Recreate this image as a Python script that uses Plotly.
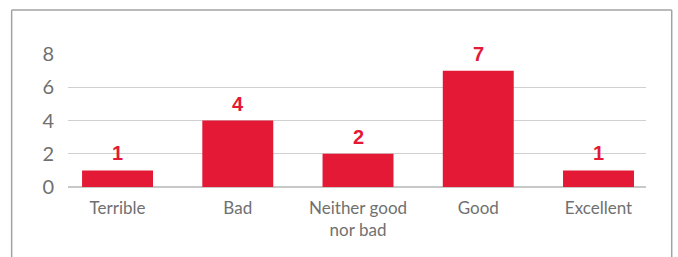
import plotly.graph_objects as go

categories = ["Terrible", "Bad", "Neither good<br>nor bad", "Good", "Excellent"]
values = [1, 4, 2, 7, 1]
y_ticks = [0, 2, 4, 6, 8]

RED = "#E31935"
GRAY = "#707070"
FONT = "Lato, 'Open Sans', sans-serif"
LABEL_FONT = "'Liberation Sans', Arial, sans-serif"

xs = list(range(len(categories)))

fig = go.Figure(go.Bar(
    x=xs,
    y=values,
    marker=dict(color=RED, line=dict(width=0)),
    width=0.59,
    hoverinfo="skip",
))

for x, v in zip(xs, values):
    fig.add_annotation(
        x=x, y=v, text=f"<b>{v}</b>", showarrow=False,
        yanchor="bottom", yshift=5, borderpad=0,
        font=dict(color=RED, size=20, family=LABEL_FONT),
    )

BORDER = "#a3a3a3"
fig.update_layout(
    width=678, height=257,
    margin=dict(l=68, r=32, t=54, b=70),
    paper_bgcolor="white", plot_bgcolor="white",
    showlegend=False,
    font=dict(family=FONT, color=GRAY),
    xaxis=dict(
        tickmode="array", tickvals=xs, ticktext=categories,
        range=[-0.412, 4.395], showgrid=False, zeroline=False, showline=False,
        tickfont=dict(size=17, color=GRAY), ticks="", ticklabelstandoff=9,
    ),
    yaxis=dict(
        range=[0, 8], tickvals=y_ticks, showgrid=True, gridcolor="#d0d0d0", gridwidth=1,
        zeroline=True, zerolinecolor="#c8c8c8", zerolinewidth=1.5,
        tickfont=dict(size=20, color=GRAY), ticks="", ticklabelstandoff=13,
    ),
    shapes=[
        dict(type="line", xref="paper", yref="paper", x0=-0.0975, x1=1.0445, y0=1.331, y1=1.331,
             line=dict(color=BORDER, width=1.5)),
        dict(type="line", xref="paper", yref="paper", x0=-0.0975, x1=-0.0975, y0=-0.6, y1=1.331,
             line=dict(color=BORDER, width=1.5)),
        dict(type="line", xref="paper", yref="paper", x0=1.0445, x1=1.0445, y0=-0.6, y1=1.331,
             line=dict(color=BORDER, width=1.5)),
    ],
)

fig.write_html(
    "out.html",
    config={"displayModeBar": False},
    post_script="document.body.style.margin='0';document.body.style.overflow='hidden';document.documentElement.style.overflow='hidden';",
)
